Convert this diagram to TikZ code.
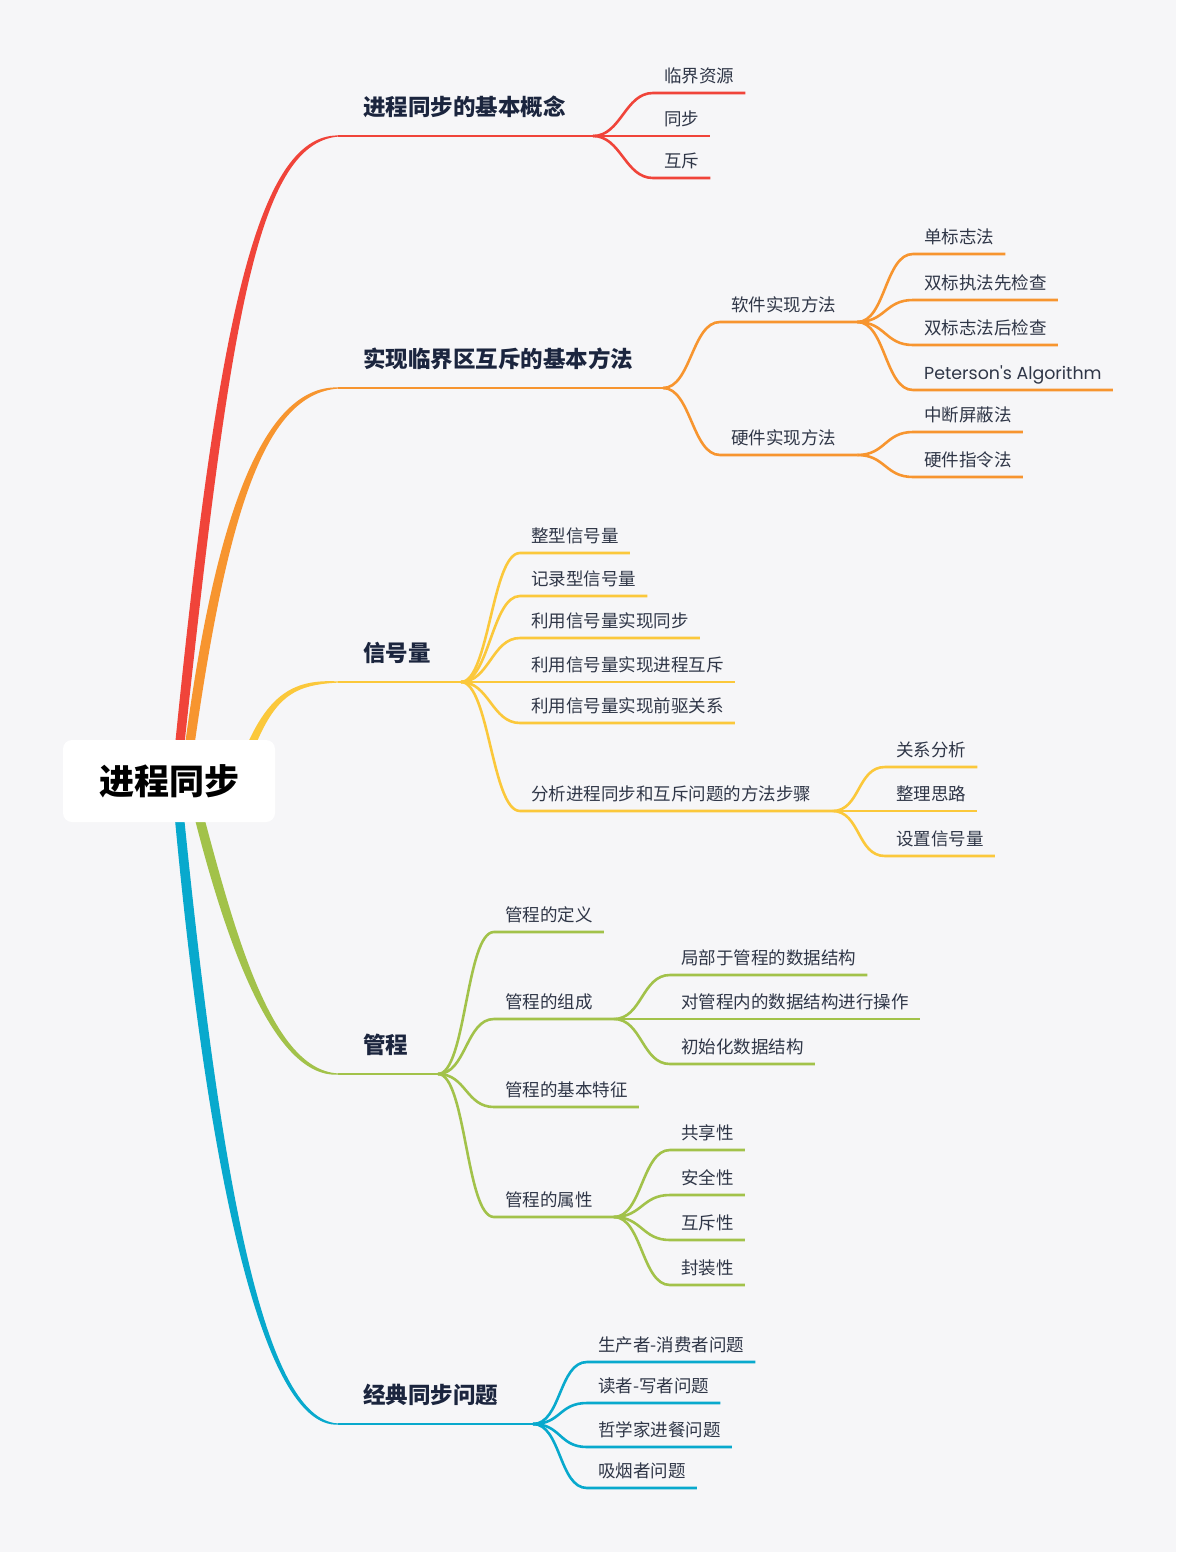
\documentclass[tikz,border=0pt]{standalone}
\usepackage{fontspec}
\setmainfont{Noto Sans CJK SC}
\newfontfamily\enfont{Poppins}
\usepackage{tikz}
\usetikzlibrary{calc}

\definecolor{bgc}{HTML}{F6F6F8}
\definecolor{redc}{HTML}{F0443A}
\definecolor{orc}{HTML}{F7952F}
\definecolor{yelc}{HTML}{FBC83B}
\definecolor{grnc}{HTML}{A2C24A}
\definecolor{bluc}{HTML}{08A9CD}
\definecolor{topictxt}{HTML}{1B253E}
\definecolor{leaftxt}{HTML}{2F3647}

\begin{document}
\begin{tikzpicture}[
  x=1pt, y=-1pt,
  root/.style={fill=white, rounded corners=9pt, minimum width=212pt,
               minimum height=82pt, inner sep=0, text=black,
               font=\fontsize{35}{40}\selectfont\bfseries},
  topic/.style={anchor=south west, inner sep=0, text depth=20pt,
                text=topictxt, font=\fontsize{22.5}{26}\selectfont\bfseries},
  leaf/.style={anchor=south west, inner xsep=11pt, inner ysep=0,
               text depth=10pt, text=leaftxt,
               font=\fontsize{17.5}{20}\selectfont},
  wire/.style={line width=2.6pt},
  branch/.style={to path={.. controls +(#1,0) and +(-#1,0) .. (\tikztotarget)}},
  branch/.default=28,
]
\fill[bgc] (0,0) rectangle (1176,1552);

\coordinate (hub) at (169,781);
\coordinate (m1) at (338,136);
\coordinate (m2) at (338,388);
\coordinate (m3) at (338,682);
\coordinate (m4) at (338,1074);
\coordinate (m5) at (338,1424);

% main branches, thick at the centre and thin at the end
\fill[redc] ($(hub)+(2.5,0)$) .. controls (215.5,330) and (255,135.5) .. ($(m1)+(0,-0.6)$)
  -- ($(m1)+(0,0.6)$) .. controls (255,144.5) and (228.5,330) .. ($(hub)+(11.5,0)$) -- cycle;
\fill[orc] ($(hub)+(11.5,0)$) .. controls (211.5,520) and (262,385.5) .. ($(m2)+(0,-0.6)$)
  -- ($(m2)+(0,0.6)$) .. controls (262,394.5) and (224.5,520) .. ($(hub)+(20.5,0)$) -- cycle;
\fill[yelc] ($(hub)+(58.5,19)$) .. controls (257,700) and (285,678.5) .. ($(m3)+(0,-0.6)$)
  -- ($(m3)+(0,0.6)$) .. controls (285,685.5) and (267,700) .. ($(hub)+(67.5,19)$) -- cycle;
\fill[grnc] ($(hub)+(16.5,0)$) .. controls (218.5,920) and (268,1078.5) .. ($(m4)+(0,0.6)$)
  -- ($(m4)+(0,-0.6)$) .. controls (268,1069.5) and (231.5,920) .. ($(hub)+(25.5,0)$) -- cycle;
\fill[bluc] ($(hub)+(2.5,0)$) .. controls (205.5,1170) and (262,1428.5) .. ($(m5)+(0,0.6)$)
  -- ($(m5)+(0,-0.6)$) .. controls (262,1419.5) and (218.5,1170) .. ($(hub)+(11.5,0)$) -- cycle;

\node[root] (root) at (hub) {进程同步};

% basic concepts
\coordinate (f1) at (593,136);
\node[topic] (t1) at (m1 -| 363,0) {进程同步的基本概念};
\node[leaf] (a1) at (653,93) {临界资源};
\node[leaf] (a2) at (653,136) {同步};
\node[leaf] (a3) at (653,178) {互斥};
\draw[wire, redc] (m1) -- (f1);
\draw[wire, redc] (f1) to[branch] (a1.south west) -- (a1.south east);
\draw[wire, redc] (f1) to[branch] (a2.south west) -- (a2.south east);
\draw[wire, redc] (f1) to[branch] (a3.south west) -- (a3.south east);

% mutual exclusion methods
\coordinate (f2) at (663,388);
\node[topic] (t2) at (m2 -| 363,0) {实现临界区互斥的基本方法};
\node[leaf] (b1) at (720,322) {软件实现方法};
\node[leaf] (b2) at (720,455) {硬件实现方法};
\coordinate (g1) at ($(b1.south east)+(10,0)$);
\coordinate (g2) at ($(b2.south east)+(10,0)$);
\node[leaf] (b11) at (913,254) {单标志法};
\node[leaf] (b12) at (913,300) {双标执法先检查};
\node[leaf] (b13) at (913,345) {双标志法后检查};
\node[leaf, font=\enfont\fontsize{17.4}{20}\selectfont] (b14) at (913,390) {Peterson's Algorithm};
\node[leaf] (b21) at (913,432) {中断屏蔽法};
\node[leaf] (b22) at (913,477) {硬件指令法};
\draw[wire, orc] (m2) -- (f2);
\draw[wire, orc] (f2) to[branch] (b1.south west) -- (g1);
\draw[wire, orc] (f2) to[branch] (b2.south west) -- (g2);
\draw[wire, orc] (g1) to[branch] (b11.south west) -- (b11.south east);
\draw[wire, orc] (g1) to[branch] (b12.south west) -- (b12.south east);
\draw[wire, orc] (g1) to[branch] (b13.south west) -- (b13.south east);
\draw[wire, orc] (g1) to[branch] (b14.south west) -- (b14.south east);
\draw[wire, orc] (g2) to[branch] (b21.south west) -- (b21.south east);
\draw[wire, orc] (g2) to[branch] (b22.south west) -- (b22.south east);

% semaphores
\coordinate (f3) at (461,682);
\node[topic] (t3) at (m3 -| 363,0) {信号量};
\node[leaf] (c1) at (520,553) {整型信号量};
\node[leaf] (c2) at (520,596) {记录型信号量};
\node[leaf] (c3) at (520,638) {利用信号量实现同步};
\node[leaf] (c4) at (520,682) {利用信号量实现进程互斥};
\node[leaf] (c5) at (520,723) {利用信号量实现前驱关系};
\node[leaf] (c6) at (520,811) {分析进程同步和互斥问题的方法步骤};
\coordinate (g3) at ($(c6.south east)+(10,0)$);
\node[leaf] (c61) at (885,767) {关系分析};
\node[leaf] (c62) at (885,811) {整理思路};
\node[leaf] (c63) at (885,856) {设置信号量};
\draw[wire, yelc] (m3) -- (f3);
\draw[wire, yelc] (f3) to[branch] (c1.south west) -- (c1.south east);
\draw[wire, yelc] (f3) to[branch] (c2.south west) -- (c2.south east);
\draw[wire, yelc] (f3) to[branch] (c3.south west) -- (c3.south east);
\draw[wire, yelc] (f3) to[branch] (c4.south west) -- (c4.south east);
\draw[wire, yelc] (f3) to[branch] (c5.south west) -- (c5.south east);
\draw[wire, yelc] (f3) to[branch] (c6.south west) -- (g3);
\draw[wire, yelc] (g3) to[branch] (c61.south west) -- (c61.south east);
\draw[wire, yelc] (g3) to[branch] (c62.south west) -- (c62.south east);
\draw[wire, yelc] (g3) to[branch] (c63.south west) -- (c63.south east);

% monitors
\coordinate (f4) at (438,1074);
\node[topic] (t4) at (m4 -| 363,0) {管程};
\node[leaf] (d1) at (494,932) {管程的定义};
\node[leaf] (d2) at (494,1019) {管程的组成};
\node[leaf] (d3) at (494,1107) {管程的基本特征};
\node[leaf] (d4) at (494,1217) {管程的属性};
\coordinate (g4) at ($(d2.south east)+(10,0)$);
\coordinate (g5) at ($(d4.south east)+(10,0)$);
\node[leaf] (d21) at (670,975) {局部于管程的数据结构};
\node[leaf] (d22) at (670,1019) {对管程内的数据结构进行操作};
\node[leaf] (d23) at (670,1064) {初始化数据结构};
\node[leaf] (d41) at (670,1150) {共享性};
\node[leaf] (d42) at (670,1195) {安全性};
\node[leaf] (d43) at (670,1240) {互斥性};
\node[leaf] (d44) at (670,1285) {封装性};
\draw[wire, grnc] (m4) -- (f4);
\draw[wire, grnc] (f4) to[branch] (d1.south west) -- (d1.south east);
\draw[wire, grnc] (f4) to[branch] (d2.south west) -- (g4);
\draw[wire, grnc] (f4) to[branch] (d3.south west) -- (d3.south east);
\draw[wire, grnc] (f4) to[branch] (d4.south west) -- (g5);
\draw[wire, grnc] (g4) to[branch] (d21.south west) -- (d21.south east);
\draw[wire, grnc] (g4) to[branch] (d22.south west) -- (d22.south east);
\draw[wire, grnc] (g4) to[branch] (d23.south west) -- (d23.south east);
\draw[wire, grnc] (g5) to[branch] (d41.south west) -- (d41.south east);
\draw[wire, grnc] (g5) to[branch] (d42.south west) -- (d42.south east);
\draw[wire, grnc] (g5) to[branch] (d43.south west) -- (d43.south east);
\draw[wire, grnc] (g5) to[branch] (d44.south west) -- (d44.south east);

% classic problems
\coordinate (f5) at (533,1424);
\node[topic] (t5) at (m5 -| 363,0) {经典同步问题};
\node[leaf] (e1) at (587,1362) {生产者-消费者问题};
\node[leaf] (e2) at (587,1403) {读者-写者问题};
\node[leaf] (e3) at (587,1447) {哲学家进餐问题};
\node[leaf] (e4) at (587,1488) {吸烟者问题};
\draw[wire, bluc] (m5) -- (f5);
\draw[wire, bluc] (f5) to[branch] (e1.south west) -- (e1.south east);
\draw[wire, bluc] (f5) to[branch] (e2.south west) -- (e2.south east);
\draw[wire, bluc] (f5) to[branch] (e3.south west) -- (e3.south east);
\draw[wire, bluc] (f5) to[branch] (e4.south west) -- (e4.south east);
\end{tikzpicture}
\end{document}
